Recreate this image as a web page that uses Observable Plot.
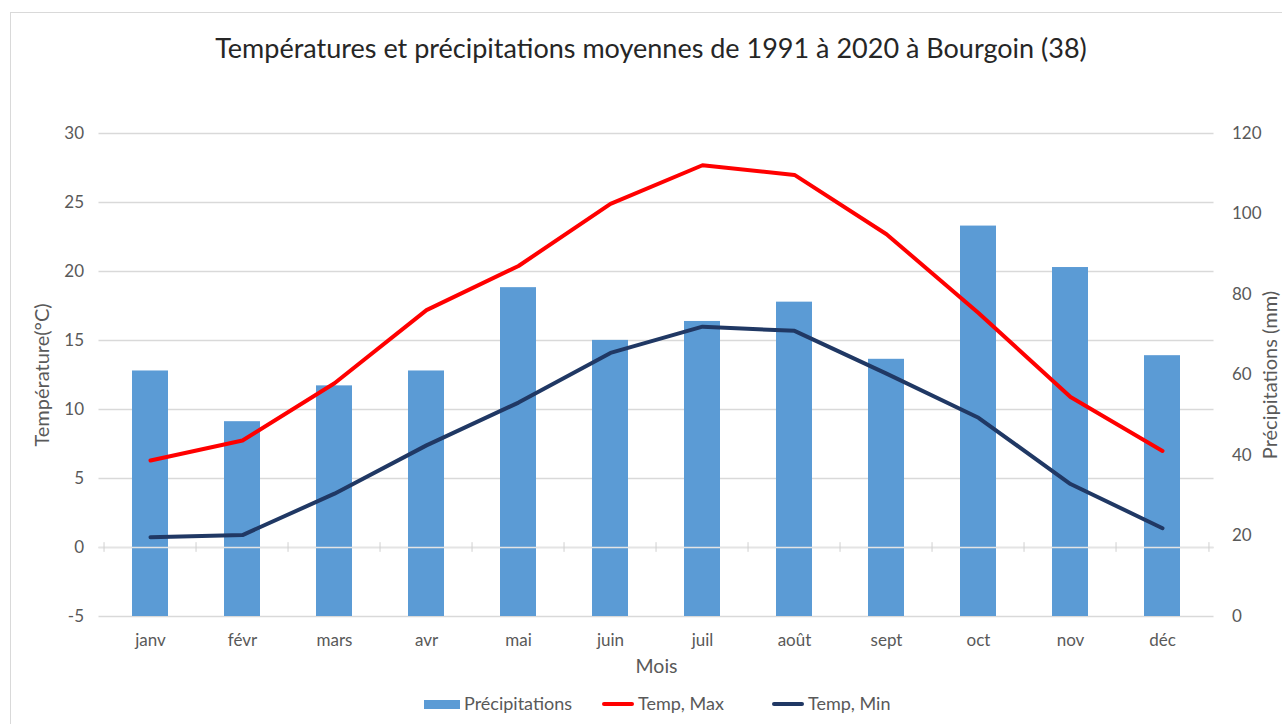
<!DOCTYPE html>
<html>
<head>
<meta charset="utf-8">
<script src="https://cdn.jsdelivr.net/npm/d3@7"></script>
<script src="https://cdn.jsdelivr.net/npm/@observablehq/plot@0.6"></script>
<style>
  body { margin:0; width:1282px; height:724px; overflow:hidden; position:relative; background:#fff; font-family: Lato, "Noto Sans", sans-serif; color:#595959; }
  #frame { position:absolute; left:10px; top:12px; width:1300px; height:800px; border:1px solid #d9d9d9; box-sizing:border-box; }
  #title { position:absolute; left:0; width:1302px; top:31px; line-height:34px; text-align:center; font-size:27px; color:#262626; }
  #chart { position:absolute; left:0; top:90px; }
  #legend { position:absolute; left:0; top:692px; height:22px; width:1282px; font-size:18px; color:#595959; }
  #legend .item { position:absolute; top:0; line-height:22px; white-space:nowrap; }
  #legend .sw { display:inline-block; vertical-align:middle; margin-right:4px; position:relative; top:-1px; }
</style>
</head>
<body>
<div id="frame"></div>
<div id="title">Températures et précipitations moyennes de 1991 à 2020 à Bourgoin (38)</div>
<div id="chart"></div>
<div id="legend">
  <span class="item" style="left:424px"><span class="sw" style="width:36px;height:9px;background:#5b9bd5"></span>Précipitations</span>
  <span class="item" style="left:602px"><span class="sw" style="width:32px;height:4px;background:#ff0000;border-radius:2px"></span>Temp, Max</span>
  <span class="item" style="left:772px"><span class="sw" style="width:32px;height:4px;background:#203864;border-radius:2px"></span>Temp, Min</span>
</div>
<script>
const months = ["janv","févr","mars","avr","mai","juin","juil","août","sept","oct","nov","déc"];
const precip = [61, 48.4, 57.3, 61, 81.7, 68.6, 73.3, 78.1, 63.9, 97, 86.7, 64.8];
const tempMax = [6.3, 7.75, 11.9, 17.2, 20.4, 24.9, 27.7, 27.0, 22.7, 17.0, 10.9, 7.0];
const tempMin = [0.75, 0.9, 3.9, 7.4, 10.5, 14.1, 16.0, 15.7, 12.6, 9.4, 4.6, 1.4];
const tempTicks = [-5, 0, 5, 10, 15, 20, 25, 30];
const precipTicks = [0, 20, 40, 60, 80, 100, 120];

// secondary axis: 0..120 mm mapped onto -5..30 °C
const toT = p => -5 + p * 35 / 120;
const fromT = t => (t + 5) * 120 / 35;

const data = months.map((m, i) => ({month: m, precip: precip[i], tmax: tempMax[i], tmin: tempMin[i]}));

const chart = Plot.plot({
  width: 1282,
  height: 600,
  marginTop: 43,
  marginBottom: 74,
  marginLeft: 98.5,
  marginRight: 68.5,
  style: {fontFamily: "Lato, 'Noto Sans', sans-serif", fontSize: "17px", color: "#595959", background: "transparent", overflow: "visible"},
  x: {type: "band", domain: months, padding: 0, label: null},
  y: {domain: [-5, 30], label: null},
  marks: [
    Plot.gridY(tempTicks, {stroke: "#d9d9d9", strokeOpacity: 1, strokeWidth: 1.3}),
    Plot.barY(data, {x: "month", y1: () => -5, y2: d => toT(d.precip), fill: "#5b9bd5", insetLeft: 28, insetRight: 28}),
    Plot.ruleY([0], {stroke: "#e4e4e4", strokeWidth: 1.5}),
    Plot.ruleX(months, {x: d => d, y1: -0.35, y2: 0.35, dx: -46.46, stroke: "#d0d0d0"}),
    Plot.ruleX(months.slice(-1), {x: d => d, y1: -0.35, y2: 0.35, dx: 46.46, stroke: "#d0d0d0"}),
    Plot.line(data, {x: "month", y: "tmax", stroke: "#ff0000", strokeWidth: 4}),
    Plot.line(data, {x: "month", y: "tmin", stroke: "#203864", strokeWidth: 4}),
    Plot.axisY(tempTicks, {anchor: "left", tickSize: 0, tickPadding: 15, tickFormat: d => String(d), label: null}),
    Plot.axisY(precipTicks.map(toT), {anchor: "right", tickSize: 0, tickPadding: 18, tickFormat: d => String(Math.round(fromT(d))), label: null}),
    Plot.axisX({tickSize: 0, tickPadding: 17, label: null}),
    Plot.text(["Température(°C)"], {frameAnchor: "left", textAnchor: "middle", dx: -56, rotate: -90, fontSize: 20, fill: "#595959"}),
    Plot.text(["Précipitations (mm)"], {frameAnchor: "right", textAnchor: "middle", dx: 57, rotate: -90, fontSize: 20, fill: "#595959"}),
    Plot.text(["Mois"], {frameAnchor: "bottom", dy: 56, fontSize: 19.5, fill: "#595959"})
  ]
});
document.getElementById("chart").appendChild(chart);
</script>
</body>
</html>
